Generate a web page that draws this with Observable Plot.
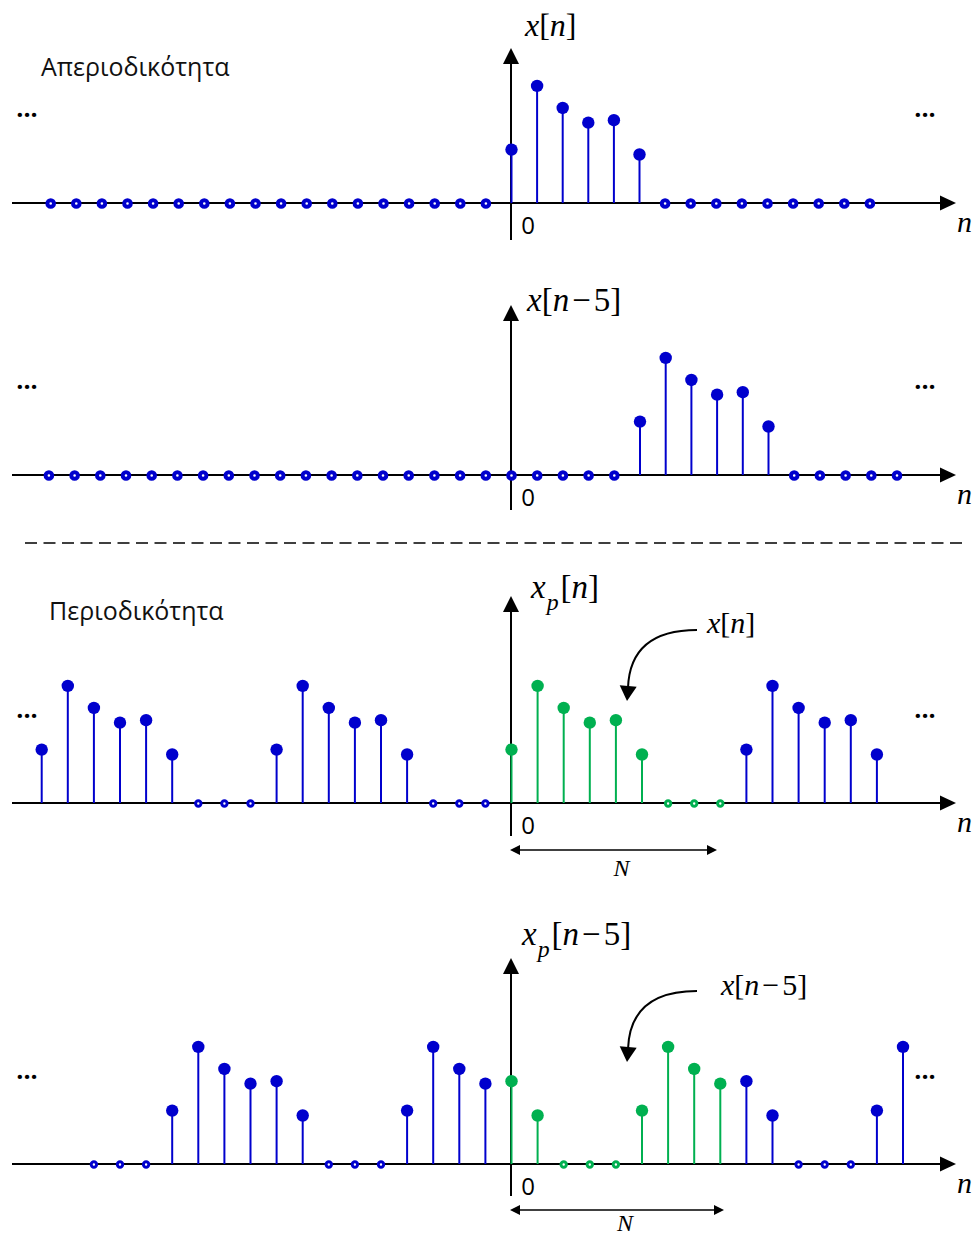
<!DOCTYPE html>
<html><head><meta charset="utf-8">
<script src="https://cdn.jsdelivr.net/npm/d3@7"></script>
<script src="https://cdn.jsdelivr.net/npm/@observablehq/plot@0.6"></script>
<style>
body{margin:0;background:#fff;}
#chart{position:relative;width:973px;height:1238px;overflow:hidden;background:#fff;}
#chart > svg{position:absolute;left:0;display:block;overflow:visible;}
</style></head><body><div id="chart"></div>
<script>
// ---------- data ----------
const xValues = [1.1, 2.4, 1.95, 1.65, 1.7, 1.0];   // x[0..5]
const period = 9;                                   // N
const shift = 5;                                    // n-5
const nRangeA = [-18, 14];   // x[n]
const nRangeB = [-18, 15];   // x[n-5]
const nRangeC = [-18, 14];   // x_p[n]
const nRangeD = [-16, 15];   // x_p[n-5]
const titles = ["Απεριοδικότητα", "Περιοδικότητα"];
const labelA = [["x","i"],["[",""],["n","i"],["]",""]];
const labelB = [["x","i"],["[",""],["n","i"],["−","m"],["5",""],["]",""]];
const labelC = [["x","i"],["p","s"],["[","u"],["n","i"],["]",""]];
const labelD = [["x","i"],["p","s"],["[","u"],["n","i"],["−","m"],["5",""],["]",""]];
const annC = labelA;
const annD = labelB;
const zeroText = "0", axisText = "n", periodText = "N", dotsText = "...";

// ---------- styling ----------
const blue = "#0000cd", green = "#00b050";
const UNIT = 49;     // px per value unit
const W = 973;
const mod = (a, m) => ((a % m) + m) % m;
const pulse = k => (k >= 0 && k < xValues.length) ? xValues[k] : 0;

function buildRows([a, b], valueAt, isGreen) {
  const rows = [];
  for (let n = a; n <= b; n++) rows.push({n, v: valueAt(n), color: isGreen(n) ? green : blue});
  return rows;
}
const rowsA = buildRows(nRangeA, n => pulse(n), () => false);
const rowsB = buildRows(nRangeB, n => pulse(n - shift), () => false);
const rowsC = buildRows(nRangeC, n => pulse(mod(n, period)), n => n >= 0 && n < period);
const rowsD = buildRows(nRangeD, n => pulse(mod(n - shift, period)), n => n >= 0 && n < period);

function mathText(g, parts, x, y, size) {
  const t = g.append("text").attr("x", x).attr("y", y).attr("text-anchor", "start")
    .attr("font-family", "'Liberation Serif', 'DejaVu Serif', serif")
    .attr("font-size", size).attr("fill", "#000");
  for (const [s, f] of parts) {
    const ts = t.append("tspan").text(s);
    if (f === "i") ts.attr("font-style", "italic");
    if (f === "s") ts.attr("font-style", "italic").attr("font-size", size * 0.72).attr("dy", size * 0.36).attr("dx", 1);
    if (f === "u") ts.attr("dy", -size * 0.36).attr("dx", 2);
    if (f === "m") ts.attr("dx", 3);
    if (s === "5") ts.attr("dx", 3);
  }
}
function head(g, tx, ty, dirx, diry, len, half) {
  const bx = tx - dirx * len, by = ty - diry * len;
  const px = -diry, py = dirx;
  g.append("path").attr("d", `M${tx},${ty}L${bx + px * half},${by + py * half}L${bx - px * half},${by - py * half}Z`).attr("fill", "#000");
}

function decorations(L) {
  return (index, {x, y}) => {
    const g = d3.create("svg:g").attr("text-anchor", "start");
    const x0 = x(0), y0 = y(0);
    // horizontal axis
    g.append("line").attr("x1", 12).attr("x2", 945).attr("y1", y0).attr("y2", y0).attr("stroke", "#000").attr("stroke-width", 2);
    head(g, 956, y0, 1, 0, 16, 7.5);
    // vertical axis
    g.append("line").attr("x1", x0).attr("x2", x0).attr("y1", L.vBottom).attr("y2", L.vTop + 10).attr("stroke", "#000").attr("stroke-width", 2);
    head(g, x0, L.vTop, 0, -1, 16, 8);
    // labels
    mathText(g, L.label, L.labelX, L.labelY, L.labelSize);
    g.append("text").attr("x", x0 + 17).attr("y", L.zeroY).attr("text-anchor", "middle")
      .attr("font-family", "'Open Sans', sans-serif").attr("font-size", 24).text(zeroText);
    g.append("text").attr("x", 957).attr("y", L.nY).attr("text-anchor", "start")
      .attr("font-family", "'Liberation Serif', serif").attr("font-style", "italic").attr("font-size", 30).text(axisText);
    for (const dx of [27, 925]) {
      g.append("text").attr("x", dx).attr("y", L.dotsY).attr("text-anchor", "middle")
        .attr("font-family", "'Open Sans', sans-serif").attr("font-weight", "bold").attr("font-size", 25).text(dotsText);
    }
    if (L.title) {
      g.append("text").attr("x", L.titleX).attr("y", L.titleY).attr("text-anchor", "start")
        .attr("font-family", "'Open Sans', sans-serif").attr("font-size", 25).attr("fill", "#111").text(L.title);
    }
    if (L.ann) {
      mathText(g, L.ann, L.annX, L.annY, 30);
      const [sx, sy, ex, ey] = L.curve;
      g.append("path").attr("d", `M${sx},${sy}Q${ex + 2},${sy} ${ex},${ey}`).attr("fill", "none").attr("stroke", "#000").attr("stroke-width", 2);
      head(g, ex - 1, ey + 13, -0.08, 1, 15, 8.5);
    }
    if (L.nArrow) {
      const [ax1, ax2, ay] = L.nArrow;
      g.append("line").attr("x1", ax1 + 6).attr("x2", ax2 - 6).attr("y1", ay).attr("y2", ay).attr("stroke", "#000").attr("stroke-width", 1.5);
      head(g, ax1, ay, -1, 0, 10, 5);
      head(g, ax2, ay, 1, 0, 10, 5);
      g.append("text").attr("x", (ax1 + ax2) / 2 + 8).attr("y", L.nTextY).attr("text-anchor", "middle")
        .attr("font-family", "'Liberation Serif', serif").attr("font-style", "italic").attr("font-size", 24).text(periodText);
    }
    if (L.sep) {
      g.append("line").attr("x1", 25).attr("x2", 965).attr("y1", L.sep).attr("y2", L.sep)
        .attr("stroke", "#000").attr("stroke-width", 1.6).attr("stroke-dasharray", "12,6.5");
    }
    return g.node();
  };
}

function panel(L) {
  const nz = L.rows.filter(d => d.v > 0), zs = L.rows.filter(d => d.v === 0);
  const svg = Plot.plot({
    width: W, height: L.H,
    marginTop: 0, marginRight: 0, marginBottom: 0, marginLeft: 0,
    x: {type: "linear", domain: [-L.origin / L.sp, (W - L.origin) / L.sp], range: [0, W], axis: null},
    y: {type: "linear", domain: [-(L.H - L.base) / UNIT, L.base / UNIT], range: [L.H, 0], axis: null},
    color: {type: "identity"},
    style: {background: "transparent", overflow: "visible"},
    marks: [
      decorations(L),
      Plot.ruleX(nz, {x: "n", y1: 0, y2: "v", stroke: "color", strokeWidth: 2}),
      Plot.dot(nz, {x: "n", y: "v", r: 6.2, fill: "color", stroke: "none"}),
      Plot.dot(zs, {x: "n", y: "v", r: L.zr, fill: "white", stroke: "color", strokeWidth: L.zsw})
    ]
  });
  svg.style.top = L.top + "px";
  return svg;
}

const layouts = [
  {top: 0, H: 270, base: 203, origin: 511, sp: 25.6, rows: rowsA, zr: 3.3, zsw: 4,
   label: labelA, labelX: 525, labelY: 36, labelSize: 32, vTop: 48, vBottom: 240,
   zeroY: 234, nY: 232, dotsY: 117, title: titles[0], titleX: 41, titleY: 76},
  {top: 270, H: 290, base: 205, origin: 511, sp: 25.7, rows: rowsB, zr: 3.3, zsw: 4,
   label: labelB, labelX: 527, labelY: 41, labelSize: 33, vTop: 35, vBottom: 240,
   zeroY: 236, nY: 234, dotsY: 119, sep: 273},
  {top: 560, H: 340, base: 243, origin: 511, sp: 26.1, rows: rowsC, zr: 2.7, zsw: 3,
   label: labelC, labelX: 531, labelY: 38, labelSize: 33, vTop: 36, vBottom: 276,
   zeroY: 274, nY: 272, dotsY: 158, title: titles[1], titleX: 49, titleY: 60,
   ann: annC, annX: 707, annY: 73, curve: [697, 70, 628, 128], nArrow: [510, 717, 290], nTextY: 316},
  {top: 900, H: 338, base: 264, origin: 511, sp: 26.1, rows: rowsD, zr: 2.7, zsw: 3,
   label: labelD, labelX: 522, labelY: 45, labelSize: 33, vTop: 58, vBottom: 296,
   zeroY: 295, nY: 293, dotsY: 179,
   ann: annD, annX: 721, annY: 95, curve: [697, 91, 628, 149], nArrow: [510, 724, 310], nTextY: 331}
];

const chart = document.getElementById("chart");
for (const L of layouts) chart.appendChild(panel(L));
</script></body></html>
